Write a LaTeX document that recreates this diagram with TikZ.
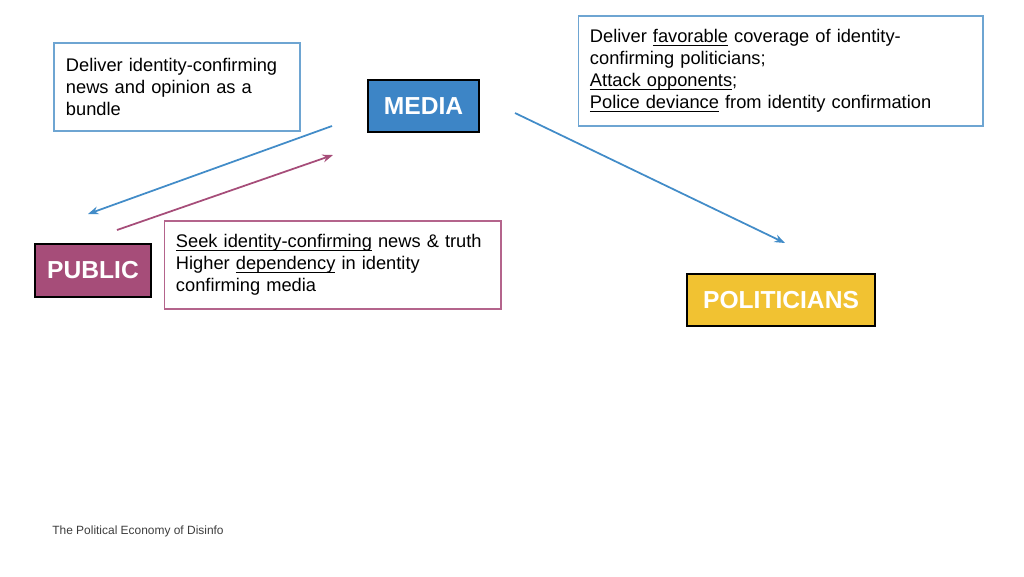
\documentclass[tikz,border=0pt]{standalone}
\usepackage{fontspec}
\setmainfont{Liberation Sans}
\usepackage{xcolor}
\usepackage{tikz}
\usetikzlibrary{arrows.meta, positioning}

\definecolor{mediablue}{RGB}{61,133,198}
\definecolor{linkblue}{RGB}{66,140,200}
\definecolor{noteblue}{RGB}{110,165,210}
\definecolor{publicrose}{RGB}{166,77,121}
\definecolor{noterose}{RGB}{180,100,140}
\definecolor{polyellow}{RGB}{241,194,50}
\definecolor{footgray}{RGB}{60,60,60}

\newcommand{\uln}[1]{\underline{\smash{#1}}}

\begin{document}
\begin{tikzpicture}[x=0.02cm, y=-0.02cm,
                actor/.style={rectangle, draw=black, line width=1.2pt, text=white, font=\fontsize{14}{16}\selectfont\bfseries, inner sep=0pt},
                note/.style={rectangle, line width=0.6pt, align=left, inner xsep=6.8pt, inner ysep=0pt, font=\fontsize{10.4}{12.5}\selectfont},
                arrow/.style={-{Stealth[length=6pt, width=4.5pt]}, line width=1pt}
            ]
                \useasboundingbox (0,0) rectangle (1024,576);

                % actors
                \node (media) [actor, fill=mediablue, minimum width=2.22cm, minimum height=1.04cm] at (423.5,106) {MEDIA};
                \node (public) [actor, fill=publicrose, minimum width=2.32cm, minimum height=1.06cm] at (93,270.5) {PUBLIC};
                \node (pol) [actor, fill=polyellow, minimum width=3.76cm, minimum height=1.04cm] at (781,300) {POLITICIANS};

                % notes
                \node (bundle) [note, draw=noteblue, text width=4.92cm-13.6pt, minimum height=1.76cm] at (177,87)
                    {Deliver identity-confirming\\ news and opinion as a\\ bundle};
                \node (cover) [note, draw=noteblue, text width=8.1cm-13.6pt, minimum height=2.2cm] at (780.5,71)
                    {Deliver \uln{favorable} coverage of identity-\\ confirming politicians;\\ \uln{Attack opponents};\\ \uln{Police deviance} from identity confirmation};
                \node (seek) [note, draw=noterose, text width=6.74cm-13.6pt, minimum height=1.76cm] at (332.5,265)
                    {\uln{Seek identity-confirming} news \& truth\\ Higher \uln{dependency} in identity\\ confirming media};

                \node (foot) [anchor=west, text=footgray, font=\fontsize{6.8}{8}\selectfont, inner sep=0pt] at (52,531) {The Political Economy of Disinfo};

                % arrow ends
                \coordinate (mediaOut) at (332,126);
                \coordinate (publicIn) at (88,214);
                \coordinate (publicOut) at (117,230);
                \coordinate (mediaIn) at (333,155);
                \coordinate (mediaR) at (515,113);
                \coordinate (polIn) at (785,243);

                \draw [arrow, linkblue] (mediaOut) -- (publicIn);
                \draw [arrow, publicrose] (publicOut) -- (mediaIn);
                \draw [arrow, linkblue] (mediaR) -- (polIn);
            \end{tikzpicture}
\end{document}
